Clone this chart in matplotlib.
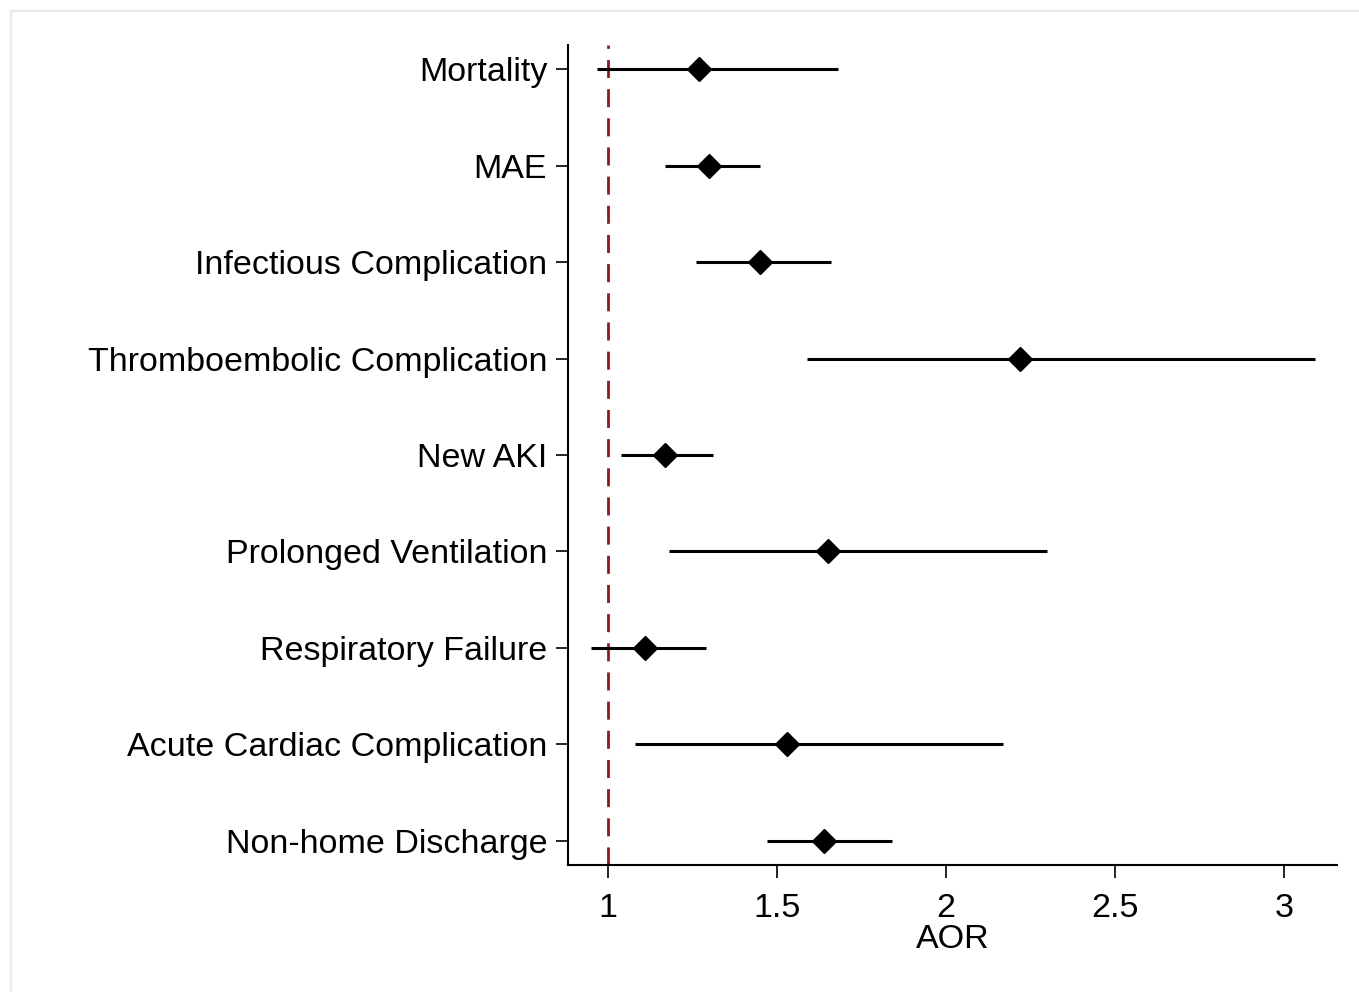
import matplotlib
matplotlib.use("Agg")
import matplotlib.pyplot as plt
from matplotlib.patches import Rectangle

plt.rcParams['font.family'] = ['Liberation Sans', 'DejaVu Sans']

# Odds ratios ajustados e IC 95%
desfechos = [
    "Mortality",
    "MAE",
    "Infectious Complication",
    "Thromboembolic Complication",
    "New AKI",
    "Prolonged Ventilation",
    "Respiratory Failure",
    "Acute Cardiac Complication",
    "Non-home Discharge",
]
aor = [1.27, 1.30, 1.45, 2.22, 1.17, 1.65, 1.11, 1.53, 1.64]
ic_inf = [0.97, 1.17, 1.26, 1.59, 1.04, 1.18, 0.95, 1.08, 1.47]
ic_sup = [1.68, 1.45, 1.66, 3.09, 1.31, 2.30, 1.29, 2.17, 1.84]
xticks = [1, 1.5, 2, 2.5, 3]
xtick_labels = ["1", "1.5", "2", "2.5", "3"]

fig = plt.figure(figsize=(13.59, 9.92), dpi=100)
ax = fig.add_axes([0.418, 0.128, 0.5658, 0.8266])

# moldura clara em volta da figura
fig.patches.append(Rectangle((11 / 1359, -0.05), 1.1, (992 - 11) / 992 + 0.05,
                             transform=fig.transFigure, fill=False,
                             edgecolor='#e4ebf2', linewidth=1.6))

y = list(range(1, len(desfechos) + 1))

ax.axvline(1, color='#8b1a22', linewidth=2.0, linestyle=(0, (6.5, 4.0)), zorder=1)
ax.hlines(y, ic_inf, ic_sup, color='black', linewidth=2.2, zorder=2)
ax.plot(aor, y, linestyle='none', marker='D', markersize=12.5,
        color='black', markeredgewidth=1, zorder=3)

ax.set_xlim(0.883, 3.156)
ax.set_ylim(9.25, 0.75)
ax.set_yticks(y)
ax.set_yticklabels(desfechos, fontsize=24.5)
ax.set_xticks(xticks)
ax.set_xticklabels(xtick_labels, fontsize=24.5)
ax.set_xlabel("AOR", fontsize=24.5, labelpad=0)

ax.spines['top'].set_visible(False)
ax.spines['right'].set_visible(False)
for s in ['left', 'bottom']:
    ax.spines[s].set_linewidth(1.5)
ax.tick_params(axis='both', length=9, width=1.2, direction='out')
ax.tick_params(axis='y', pad=6)
ax.tick_params(axis='x', pad=11)

fig.savefig("out.png", dpi=100, facecolor='white')
